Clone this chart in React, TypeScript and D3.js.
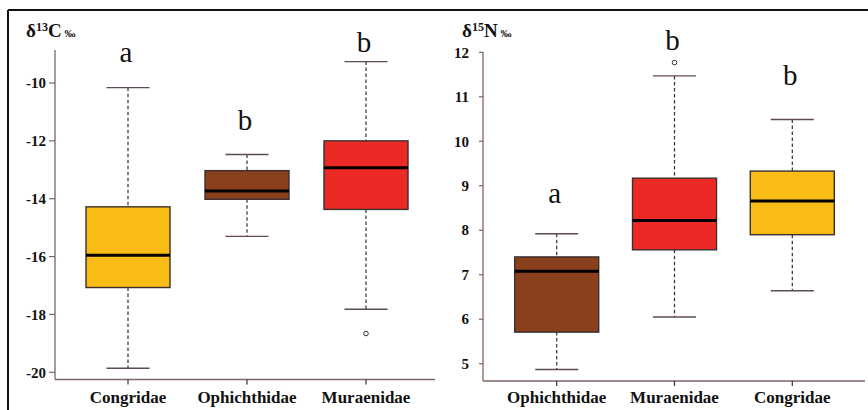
import React from "react";
import * as d3 from "d3";

// ---- Data: δ13C panel ----
const c13Categories = ["Congridae", "Ophichthidae", "Muraenidae"];
const c13WhiskerLow = [-19.86, -15.3, -17.82];
const c13Q1 = [-17.07, -14.02, -14.37];
const c13Median = [-15.95, -13.73, -12.93];
const c13Q3 = [-14.28, -13.03, -12.0];
const c13WhiskerHigh = [-10.16, -12.47, -9.26];
const c13Outliers = [[], [], [-18.66]];
const c13Letters = ["a", "b", "b"];
const c13LetterValue = [-9.27, -11.63, -8.93];
const c13Ticks = [-20, -18, -16, -14, -12, -10];

// ---- Data: δ15N panel ----
const n15Categories = ["Ophichthidae", "Muraenidae", "Congridae"];
const n15WhiskerLow = [4.87, 6.05, 6.64];
const n15Q1 = [5.71, 7.56, 7.9];
const n15Median = [7.08, 8.22, 8.66];
const n15Q3 = [7.4, 9.17, 9.33];
const n15WhiskerHigh = [7.92, 11.47, 10.49];
const n15Outliers = [[], [11.77], []];
const n15Letters = ["a", "b", "b"];
const n15LetterValue = [8.61, 12.05, 11.26];
const n15Ticks = [5, 6, 7, 8, 9, 10, 11, 12];

const familyColor: Record<string, string> = {
  Congridae: "#F8BC14",
  Ophichthidae: "#8A3F1D",
  Muraenidae: "#EC2A25",
};

const AXIS = "#7d6663";
const SERIF = "'Liberation Serif', 'Times New Roman', serif";

type PanelProps = {
  categories: string[];
  lo: number[];
  q1: number[];
  med: number[];
  q3: number[];
  hi: number[];
  outliers: number[][];
  letters: string[];
  letterValue: number[];
  ticks: number[];
  yDomain: [number, number];
  yRange: [number, number];
  xRange: [number, number];
  axisX: number;
  axisTop: number;
  baseY: number;
  xAxisEnd: number;
  tickFont: number;
  tickLen: number;
  labelGap: number;
  titleX: number;
  titleSup: string;
  titleEl: string;
};

function Panel(p: PanelProps) {
  const y = d3.scaleLinear().domain(p.yDomain).range(p.yRange);
  const x = d3.scalePoint<string>().domain(p.categories).range(p.xRange).padding(0.5);
  const boxW = 84;
  const capW = 43;
  return (
    <g style={{ fontFamily: SERIF }}>
      {/* title */}
      <text x={p.titleX} y={37} fontWeight="bold" fontSize={19} fill="#111">
        δ<tspan fontSize={12} dy={-6}>{p.titleSup}</tspan>
        <tspan dy={6}>{p.titleEl}</tspan>
        <tspan fontSize={11} dx={3}>‰</tspan>
      </text>
      {/* y axis */}
      <line x1={p.axisX} x2={p.axisX} y1={p.axisTop} y2={p.baseY} stroke={AXIS} strokeWidth={1.3} />
      {p.ticks.map((t) => (
        <g key={t}>
          <line x1={p.axisX - p.tickLen} x2={p.axisX} y1={y(t)} y2={y(t)} stroke={AXIS} strokeWidth={1.2} />
          <text
            x={p.axisX - p.labelGap}
            y={y(t)}
            dy="0.35em"
            textAnchor="end"
            fontWeight="bold"
            fontSize={p.tickFont}
            fill="#111"
          >
            {t}
          </text>
        </g>
      ))}
      {/* x axis */}
      <line x1={p.axisX} x2={p.xAxisEnd} y1={p.baseY} y2={p.baseY} stroke={AXIS} strokeWidth={1.3} />
      {p.categories.map((c, i) => {
        const cx = x(c) as number;
        return (
          <g key={c}>
            <line x1={cx} x2={cx} y1={p.baseY} y2={p.baseY + 5} stroke="#333" strokeWidth={1.2} />
            <text x={cx} y={403} textAnchor="middle" fontWeight="bold" fontSize={17} fill="#111">
              {c}
            </text>
            {/* whiskers */}
            <line x1={cx} x2={cx} y1={y(p.hi[i])} y2={y(p.q3[i])} stroke="#2a2f40" strokeWidth={1.2} strokeDasharray="3.5,2.5" />
            <line x1={cx} x2={cx} y1={y(p.q1[i])} y2={y(p.lo[i])} stroke="#2a2f40" strokeWidth={1.2} strokeDasharray="3.5,2.5" />
            <line x1={cx - capW / 2} x2={cx + capW / 2} y1={y(p.hi[i])} y2={y(p.hi[i])} stroke="#5e4c49" strokeWidth={1.4} />
            <line x1={cx - capW / 2} x2={cx + capW / 2} y1={y(p.lo[i])} y2={y(p.lo[i])} stroke="#5e4c49" strokeWidth={1.4} />
            {/* box */}
            <rect
              x={cx - boxW / 2}
              y={y(p.q3[i])}
              width={boxW}
              height={y(p.q1[i]) - y(p.q3[i])}
              fill={familyColor[c]}
              stroke="#3a3030"
              strokeWidth={1.4}
            />
            <line x1={cx - boxW / 2} x2={cx + boxW / 2} y1={y(p.med[i])} y2={y(p.med[i])} stroke="#000" strokeWidth={3} />
            {p.outliers[i].map((o, j) => (
              <circle key={j} cx={cx} cy={y(o)} r={2.3} fill="#fff" stroke="#333" strokeWidth={1} />
            ))}
            <text x={cx - 2} y={y(p.letterValue[i])} textAnchor="middle" fontSize={29} fill="#111">
              {p.letters[i]}
            </text>
          </g>
        );
      })}
    </g>
  );
}

export default function App() {
  return (
    <svg width={868} height={410} style={{ position: "absolute", left: 0, top: 0, background: "#fff" }}>
      <rect x={0} y={0} width={868} height={410} fill="#fff" />
      <line x1={8} x2={868} y1={10} y2={10} stroke="#111" strokeWidth={2} />
      <line x1={8} x2={8} y1={10} y2={410} stroke="#111" strokeWidth={2} />
      <Panel
        categories={c13Categories}
        lo={c13WhiskerLow}
        q1={c13Q1}
        med={c13Median}
        q3={c13Q3}
        hi={c13WhiskerHigh}
        outliers={c13Outliers}
        letters={c13Letters}
        letterValue={c13LetterValue}
        ticks={c13Ticks}
        yDomain={[-20, -10]}
        yRange={[372.3, 83]}
        xRange={[68.5, 425.5]}
        axisX={55}
        axisTop={50}
        baseY={379.5}
        xAxisEnd={435}
        tickFont={15}
        tickLen={6}
        labelGap={9}
        titleX={26}
        titleSup="13"
        titleEl="C"
      />
      <Panel
        categories={n15Categories}
        lo={n15WhiskerLow}
        q1={n15Q1}
        med={n15Median}
        q3={n15Q3}
        hi={n15WhiskerHigh}
        outliers={n15Outliers}
        letters={n15Letters}
        letterValue={n15LetterValue}
        ticks={n15Ticks}
        yDomain={[5, 12]}
        yRange={[363.7, 52.3]}
        xRange={[497.8, 851.2]}
        axisX={483}
        axisTop={52}
        baseY={381}
        xAxisEnd={865}
        tickFont={15}
        tickLen={4}
        labelGap={14}
        titleX={462}
        titleSup="15"
        titleEl="N"
      />
    </svg>
  );
}
